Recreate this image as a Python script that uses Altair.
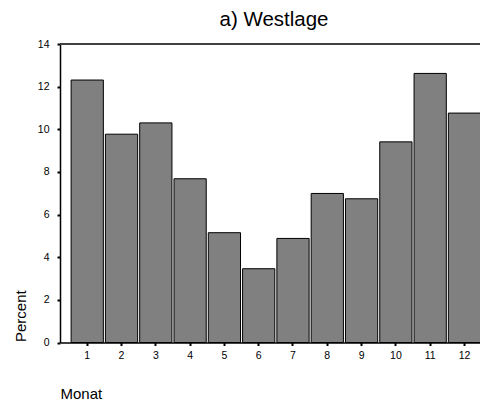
import altair as alt
import pandas as pd

months = [str(i) for i in range(1, 13)]
percent = [12.31, 9.77, 10.30, 7.68, 5.15, 3.46, 4.88, 6.99, 6.74, 9.41, 12.62, 10.76]
y_ticks = [0, 2, 4, 6, 8, 10, 12, 14]

df = pd.DataFrame({"Monat": months, "Percent": percent})

W, H = 428, 298.5
FONT = "Liberation Sans"

bars = alt.Chart(df).mark_bar(
    color="#808080", stroke="black", strokeWidth=1
).encode(
    x=alt.X(
        "Monat:N", sort=months,
        scale=alt.Scale(paddingInner=0.06, paddingOuter=0.27, align=0.6),
        axis=alt.Axis(
            title="Monat", labelAngle=0, labelFont=FONT, labelFontSize=10.5,
            labelColor="black", labelPadding=5, tickSize=3, tickWidth=2,
            tickColor="black", domainColor="black", domainWidth=1.5,
            titleFont=FONT, titleFontSize=15, titleFontWeight="normal",
            titleColor="black", titleAnchor="start", titleAlign="left",
            titleX=0, titleY=55.5, titleBaseline="alphabetic", grid=False,
        ),
    ),
    y=alt.Y(
        "Percent:Q",
        scale=alt.Scale(domain=[0, 14], nice=False),
        axis=alt.Axis(
            title="Percent", values=y_ticks, labelFont=FONT, labelFontSize=10.5,
            labelColor="black", labelPadding=8, tickSize=3, tickWidth=2,
            tickColor="black", domainColor="black", domainWidth=1.5,
            titleFont=FONT, titleFontSize=15, titleFontWeight="normal",
            titleColor="black", titleAngle=-90, titleAlign="left",
            titleBaseline="alphabetic", titleX=-35, titleY=H - 1, grid=False,
        ),
    ),
)

top_line = alt.Chart(df).mark_rule(color="#404040", strokeWidth=1).encode(
    x=alt.value(0), x2=alt.value(W), y=alt.value(0)
)

chart = alt.layer(bars, top_line).properties(
    width=W, height=H,
    title=alt.TitleParams(
        "a) Westlage", font=FONT, fontSize=20.5, fontWeight="normal",
        color="black", anchor="middle", offset=9,
    ),
    autosize=alt.AutoSizeParams(type="none"),
    padding={"left": 52, "top": 36, "right": -8, "bottom": 60},
).configure_view(stroke=None)

chart.save("out.html", embed_options={"renderer": "svg", "actions": False})
